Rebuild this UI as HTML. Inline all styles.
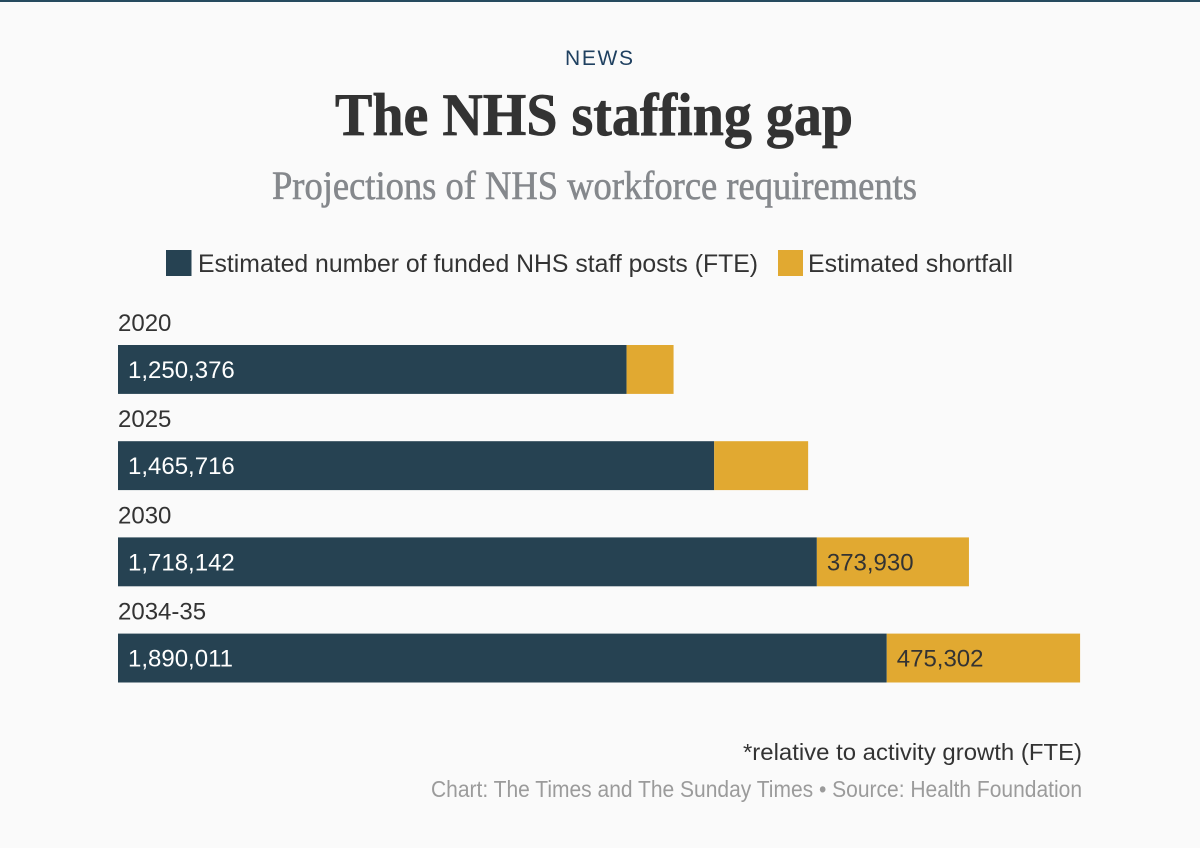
<!DOCTYPE html>
<html lang="en">
<head>
<meta charset="utf-8">
<title>The NHS staffing gap</title>
<style>
html,body{margin:0;padding:0;background:#fafafa;}
svg{display:block;}
text{font-family:"Liberation Sans",sans-serif;}
.serif{font-family:"Liberation Serif",serif;}
</style>
</head>
<body>
<svg id="chart" width="1200" height="848" viewBox="0 0 1200 848" xmlns="http://www.w3.org/2000/svg">
  <rect x="0" y="0" width="1200" height="848" fill="#fafafa"/>
  <rect x="0" y="0" width="1200" height="2" fill="#264a5e"/>
  <text x="565" y="65" font-size="21" fill="#1f4060" textLength="68" lengthAdjust="spacing">NEWS</text>
  <text class="serif" x="335" y="135" font-size="60" font-weight="700" fill="#333333" stroke="#333333" stroke-width="0.7" textLength="518" lengthAdjust="spacingAndGlyphs">The NHS staffing gap</text>
  <text class="serif" x="272" y="199" font-size="40" fill="#85888c" stroke="#85888c" stroke-width="0.6" textLength="645" lengthAdjust="spacingAndGlyphs">Projections of NHS workforce requirements</text>

  <g>
    <rect x="166" y="250" width="25.5" height="26" fill="#264252"/>
    <text x="198" y="272" font-size="25" fill="#333333" textLength="560" lengthAdjust="spacingAndGlyphs">Estimated number of funded NHS staff posts (FTE)</text>
    <rect x="778" y="250" width="25" height="26" fill="#e1a931"/>
    <text x="808" y="272" font-size="25" fill="#333333" textLength="205" lengthAdjust="spacingAndGlyphs">Estimated shortfall</text>
  </g>

  <g id="bars"></g>

  <text x="1082" y="760" font-size="23" fill="#333333" text-anchor="end" textLength="339" lengthAdjust="spacingAndGlyphs">*relative to activity growth (FTE)</text>
  <text x="1082" y="797" font-size="23" fill="#9b9b9b" text-anchor="end" textLength="651" lengthAdjust="spacingAndGlyphs">Chart: The Times and The Sunday Times • Source: Health Foundation</text>
</svg>
<script>
const categories = ['2020', '2025', '2030', '2034-35'];
const fundedPosts = [1250376, 1465716, 1718142, 1890011];
const shortfall = [115500, 231000, 373930, 475302];
const shortfallLabels = ['', '', '373,930', '475,302'];

const NS = 'http://www.w3.org/2000/svg';
const group = document.getElementById('bars');

function xScale(value) {
  return 118 + value * 0.00040675;
}
function yBand(index) {
  return 345 + index * 96.2;
}
const bandHeight = 48.9;

function formatValue(value) {
  return value.toLocaleString('en-GB');
}
function makeRect(x, y, width, height, fill) {
  const r = document.createElementNS(NS, 'rect');
  r.setAttribute('x', x);
  r.setAttribute('y', y);
  r.setAttribute('width', width);
  r.setAttribute('height', height);
  r.setAttribute('fill', fill);
  return r;
}
function makeText(x, y, content, fill) {
  const t = document.createElementNS(NS, 'text');
  t.setAttribute('x', x);
  t.setAttribute('y', y);
  t.setAttribute('font-size', '24');
  t.setAttribute('fill', fill);
  t.textContent = content;
  return t;
}

categories.forEach(function (category, i) {
  const top = yBand(i);
  const x0 = xScale(0);
  const x1 = xScale(fundedPosts[i]);
  const x2 = xScale(fundedPosts[i] + shortfall[i]);

  const yearLabel = makeText(x0, top - 14, category, '#333333');
  
  
  group.appendChild(yearLabel);

  const fundedBar = makeRect(x0, top, x1 - x0, bandHeight, '#264252');
  
  
  group.appendChild(fundedBar);

  const shortfallBar = makeRect(x1, top, x2 - x1, bandHeight, '#e1a931');
  
  
  group.appendChild(shortfallBar);

  const fundedValue = makeText(x0 + 10, top + 33, formatValue(fundedPosts[i]), '#ffffff');
  
  
  group.appendChild(fundedValue);

  if (shortfallLabels[i]) {
    const shortfallValue = makeText(x1 + 10, top + 33, shortfallLabels[i], '#333333');
    
    
    group.appendChild(shortfallValue);
  }
});
</script>
</body>
</html>
